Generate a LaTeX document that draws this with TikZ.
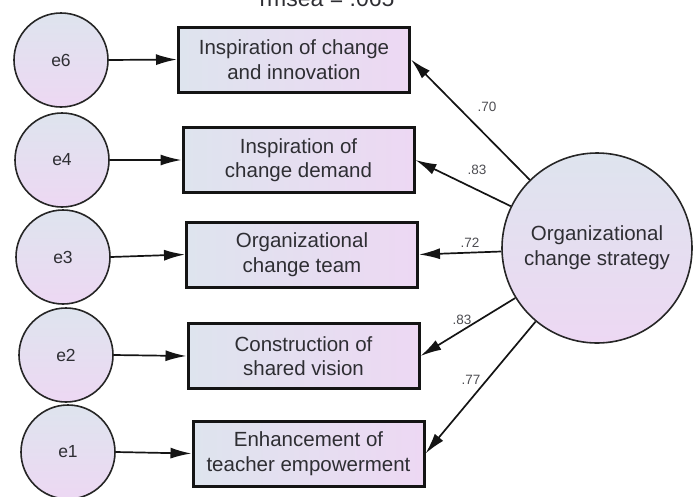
\documentclass[tikz,border=0pt]{standalone}
\usepackage{fontspec}
\setmainfont{Liberation Sans}
\usetikzlibrary{arrows.meta}
\definecolor{txt}{HTML}{2E2E33}
\definecolor{fillA}{HTML}{DEE4EE}
\definecolor{fillB}{HTML}{EDD8F3}
\tikzset{
  errc/.style={circle, draw=black!85, line width=1.6pt, minimum size=94pt, inner sep=0pt,
    shading angle=135, top color=fillA, bottom color=fillB, text=txt, font=\fontsize{17.5}{20}\selectfont},
  obsbox/.style={rectangle, draw=black!92, line width=3pt, minimum width=231pt, minimum height=65pt,
    inner sep=0pt, left color=fillA, right color=fillB, text=txt, align=center,
    font=\fontsize{20.5}{24.5}\selectfont},
  latc/.style={circle, draw=black!85, line width=1.6pt, minimum size=190pt, inner sep=0pt,
    shading angle=135, top color=fillA, bottom color=fillB, text=txt, align=center,
    font=\fontsize{20.5}{25}\selectfont},
  arr/.style={line width=1.7pt, draw=black!92, -{Latex[length=21pt,width=11pt]}},
  coef/.style={text=txt!85, font=\fontsize{13.5}{15}\selectfont, inner sep=0pt}
}
\begin{document}
\begin{tikzpicture}[x=1pt,y=-1pt]
\useasboundingbox (0,0) rectangle (700,496);
\clip (0,0) rectangle (700,496);
\node[text=txt, font=\fontsize{23}{25}\selectfont, anchor=base, inner sep=0pt] (title) at (327,6) {rmsea = .065};

\node[errc] (e6) at (61,60) {e6};
\node[errc] (e4) at (62,160) {e4};
\node[errc] (e3) at (63,257) {e3};
\node[errc] (e2) at (66,355) {e2};
\node[errc] (e1) at (68,452) {e1};

\node[obsbox] (b1) at (294,59.5) {Inspiration of change\\and innovation};
\node[obsbox] (b2) at (298.5,160) {Inspiration of\\change demand};
\node[obsbox] (b3) at (302,254.5) {Organizational\\change team};
\node[obsbox] (b4) at (303.5,356) {Construction of\\shared vision};
\node[obsbox] (b5) at (308.5,453.5) {Enhancement of\\teacher empowerment};

\node[latc] (ocs) at (597,248) {Organizational\\change strategy};

\draw[arr] (e6.east) -- (b1.west);
\draw[arr] (e4.east) -- (b2.west);
\draw[arr] (e3.east) -- (b3.west);
\draw[arr] (e2.east) -- (b4.west);
\draw[arr] (e1.east) -- (b5.west);

\draw[arr] (ocs) -- (b1.east);
\draw[arr] (ocs) -- (b2.east);
\draw[arr] (ocs) -- (b3.east);
\draw[arr] (ocs) -- (b4.east);
\draw[arr] (ocs) -- (b5.east);

\node[coef] (c1) at (487,107) {.70};
\node[coef] (c2) at (477,170) {.83};
\node[coef] (c3) at (470,243) {.72};
\node[coef] (c4) at (462,320) {.83};
\node[coef] (c5) at (471,380) {.77};
\end{tikzpicture}
\end{document}
